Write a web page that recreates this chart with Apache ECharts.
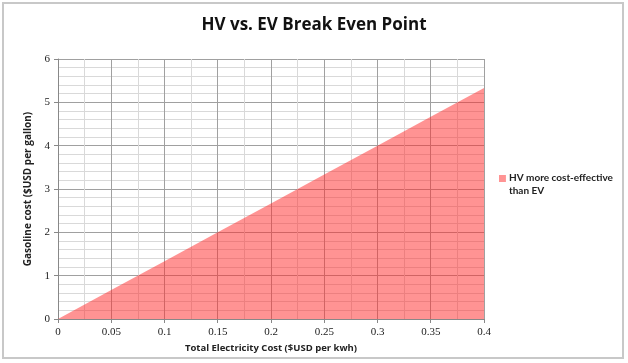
<!DOCTYPE html>
<html>
<head>
<meta charset="utf-8">
<script src="https://cdn.jsdelivr.net/npm/echarts@6/dist/echarts.min.js"></script>
<style>html,body{margin:0;padding:0;background:#fff}#c{width:628px;height:363px}</style>
</head>
<body>
<div id="c"></div>
<script>
var electricityCost = [0, 0.05, 0.1, 0.15, 0.2, 0.25, 0.3, 0.35, 0.4];
var gasolineBreakEven = [0, 0.667, 1.333, 2.0, 2.667, 3.333, 4.0, 4.667, 5.333];
var seriesName = 'HV more cost-effective than EV';
var legendLabel = 'HV more cost-effective\nthan EV';

var chart = echarts.init(document.getElementById('c'), null, {renderer: 'canvas'});
var pts = electricityCost.map(function (x, i) { return [x, gasolineBreakEven[i]]; });
var sans = 'Open Sans';
var serif = 'Liberation Serif';
chart.setOption({
  animation: false,
  backgroundColor: '#fff',
  graphic: [{
    type: 'rect', shape: {x: 3, y: 3, width: 620, height: 355},
    style: {fill: 'none', stroke: '#c8c8c8', lineWidth: 2}, z: -1
  }],
  title: {
    text: 'HV vs. EV Break Even Point', left: 'center', top: 12,
    textStyle: {fontFamily: sans, fontWeight: 'bold', fontSize: 17, color: '#111'}
  },
  legend: {
    left: 494, top: 166, orient: 'vertical', itemWidth: 7, itemHeight: 18, itemGap: 4,
    icon: 'path://M0,0h10v10h-10z M0,26h0.01v0.01h-0.01z',
    formatter: function () { return legendLabel; },
    textStyle: {fontFamily: 'Lato', fontSize: 10, color: '#222', lineHeight: 13, fontWeight: 'bold', padding: [0, 0, 0, -2]},
    data: [seriesName]
  },
  grid: {left: 58, right: 144, top: 59, bottom: 44},
  xAxis: {
    type: 'value', min: 0, max: 0.4, interval: 0.05,
    name: 'Total Electricity Cost ($USD per kwh)', nameLocation: 'middle', nameGap: 24,
    nameTextStyle: {fontFamily: sans, fontWeight: 'bold', fontSize: 9.5, color: '#222'},
    axisLine: {show: true, lineStyle: {color: '#888'}},
    axisTick: {show: true, length: 4, lineStyle: {color: '#888'}},
    axisLabel: {fontFamily: serif, fontSize: 11, color: '#222', margin: 8,
      formatter: function (v) { return String(Math.round(v * 100) / 100); }},
    splitLine: {show: true, lineStyle: {color: '#a0a0a0', width: 1}},
    minorTick: {show: false, splitNumber: 2},
    minorSplitLine: {show: true, lineStyle: {color: '#d9d9d9', width: 1}}
  },
  yAxis: {
    type: 'value', min: 0, max: 6, interval: 1,
    name: 'Gasoline cost ($USD per gallon)', nameLocation: 'middle', nameGap: 25,
    nameTextStyle: {fontFamily: sans, fontWeight: 'bold', fontSize: 10, color: '#222'},
    axisLine: {show: true, lineStyle: {color: '#888'}},
    axisTick: {show: true, length: 4, lineStyle: {color: '#888'}},
    axisLabel: {fontFamily: serif, fontSize: 11, color: '#222', margin: 8},
    splitLine: {show: true, lineStyle: {color: '#a0a0a0', width: 1}},
    minorTick: {show: false, splitNumber: 5},
    minorSplitLine: {show: true, lineStyle: {color: '#d9d9d9', width: 1}}
  },
  series: [{
    name: seriesName, type: 'line', data: pts, symbol: 'none',
    lineStyle: {width: 0}, itemStyle: {color: '#ff9494'},
    areaStyle: {color: 'rgba(255,40,40,0.5)', opacity: 1}
  }]
});
</script>
</body>
</html>
